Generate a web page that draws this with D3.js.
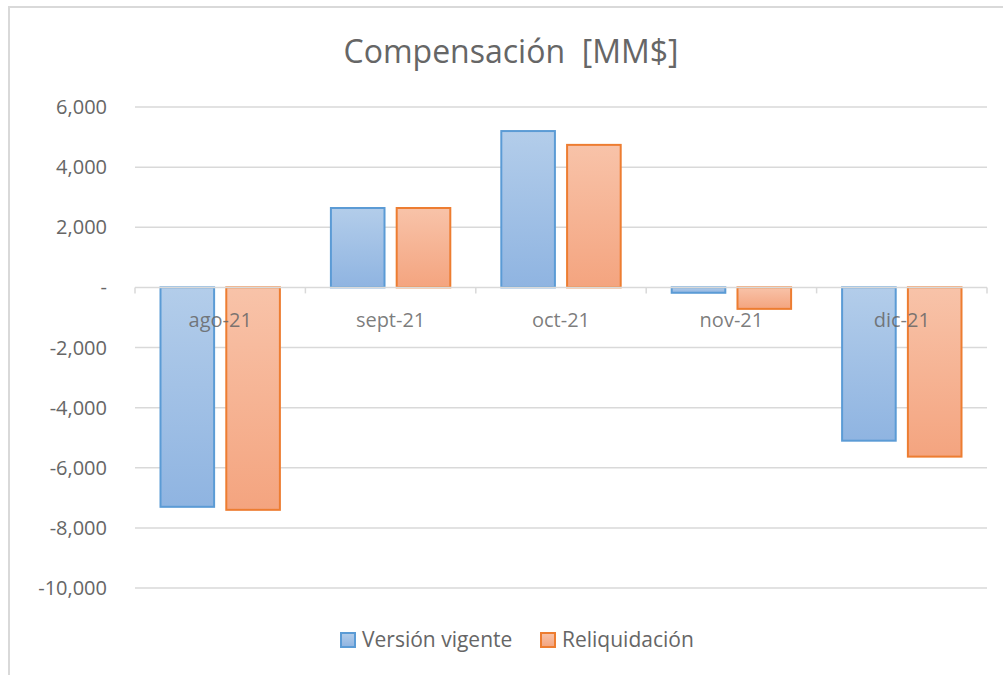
<!DOCTYPE html>
<html>
<head>
<meta charset="utf-8">
<script src="https://cdn.jsdelivr.net/npm/d3@7"></script>
<style>
  html, body { margin: 0; padding: 0; background: #fff; }
  svg { display: block; font-family: "Open Sans", sans-serif; }
</style>
</head>
<body>
<svg id="chart" width="1003" height="675"></svg>
<script>
// ── Data ──────────────────────────────────────────────────────────────────────
const months     = ['ago-21', 'sept-21', 'oct-21', 'nov-21', 'dic-21'];
const vigente    = [-7300, 2640, 5200, -180, -5100];
const reliquid   = [-7400, 2640, 4740, -715, -5630];
const seriesNames = ['Versión vigente', 'Reliquidación'];
const yTicks     = [6000, 4000, 2000, 0, -2000, -4000, -6000, -8000, -10000];

// ── Setup ─────────────────────────────────────────────────────────────────────
const svg = d3.select('#chart');
const plot = { left: 135, right: 987, top: 107, bottom: 588 };

const textCol = '#666666';
const gridCol = '#d9d9d9';

const series = [
  { name: seriesNames[0], values: vigente,  stroke: '#5b9bd5', top: '#b3cdea', bot: '#8fb4e1', id: 'g-blue' },
  { name: seriesNames[1], values: reliquid, stroke: '#ed7d31', top: '#f8c3a9', bot: '#f4a47f', id: 'g-orange' }
];

const defs = svg.append('defs');
series.forEach(s => {
  const lg = defs.append('linearGradient').attr('id', s.id)
    .attr('x1', 0).attr('y1', 0).attr('x2', 0).attr('y2', 1);
  lg.append('stop').attr('offset', '0%').attr('stop-color', s.top);
  lg.append('stop').attr('offset', '100%').attr('stop-color', s.bot);
});

// chart frame
svg.append('rect')
  .attr('x', 9).attr('y', 7).attr('width', 1100).attr('height', 800)
  .attr('fill', 'none').attr('stroke', gridCol).attr('stroke-width', 2);

// ── Scales ────────────────────────────────────────────────────────────────────
const y = d3.scaleLinear().domain([-10000, 6000]).range([plot.bottom, plot.top]);
const x0 = d3.scaleBand().domain(months).range([plot.left, plot.right]).paddingInner(0).paddingOuter(0);
const x1 = d3.scaleBand().domain([0, 1]).range([25.5, x0.bandwidth() - 25.5]).paddingInner(0.185);

// gridlines
svg.append('g').selectAll('line')
  .data(yTicks.filter(t => t !== 0))
  .join('line')
  .attr('x1', plot.left).attr('x2', plot.right)
  .attr('y1', d => y(d)).attr('y2', d => y(d))
  .attr('stroke', gridCol).attr('stroke-width', 1.5);

// y labels (accounting style: hyphen minus, "-" for zero)
const fmt = d => d === 0 ? '-' : d3.format(',')(d).replace('\u2212', '-');
svg.append('g').selectAll('text')
  .data(yTicks)
  .join('text')
  .attr('x', 107).attr('y', d => y(d))
  .attr('dy', '0.35em')
  .attr('text-anchor', 'end')
  .attr('fill', textCol)
  .style('font-size', '20px')
  .text(fmt);

// ── Bars ──────────────────────────────────────────────────────────────────────
series.forEach((s, si) => {
  svg.append('g').selectAll('rect')
    .data(s.values)
    .join('rect')
    .attr('x', (d, i) => x0(months[i]) + x1(si))
    .attr('width', x1.bandwidth())
    .attr('y', d => y(Math.max(0, d)))
    .attr('height', d => Math.abs(y(d) - y(0)))
    .attr('fill', `url(#${s.id})`)
    .attr('stroke', s.stroke)
    .attr('stroke-width', 2);
});

// zero axis line + ticks
svg.append('line')
  .attr('x1', plot.left).attr('x2', plot.right)
  .attr('y1', y(0)).attr('y2', y(0))
  .attr('stroke', gridCol).attr('stroke-width', 1.5);
svg.append('g').selectAll('line')
  .data(months.concat(['end']))
  .join('line')
  .attr('x1', (d, i) => plot.left + i * x0.bandwidth())
  .attr('x2', (d, i) => plot.left + i * x0.bandwidth())
  .attr('y1', y(0)).attr('y2', y(0) + 6)
  .attr('stroke', gridCol).attr('stroke-width', 1.5);

// category labels
svg.append('g').selectAll('text')
  .data(months)
  .join('text')
  .attr('x', d => x0(d) + x0.bandwidth() / 2)
  .attr('y', 320)
  .attr('dy', '0.35em')
  .attr('text-anchor', 'middle')
  .attr('fill', textCol)
  .attr('fill-opacity', 0.85)
  .style('font-size', '20px')
  .text(d => d);

// ── Title ─────────────────────────────────────────────────────────────────────
svg.append('text')
  .attr('x', 511).attr('y', 52)
  .attr('dy', '0.35em')
  .attr('text-anchor', 'middle')
  .attr('fill', textCol)
  .style('font-size', '32px')
  .style('white-space', 'pre')
  .attr('xml:space', 'preserve')
  .text('Compensación  [MM$]');

// ── Legend ────────────────────────────────────────────────────────────────────
const legendX = [341, 541];
const leg = svg.append('g').selectAll('g')
  .data(series)
  .join('g')
  .attr('transform', (d, i) => `translate(${legendX[i]},640)`);
leg.append('rect')
  .attr('x', 0).attr('y', -7).attr('width', 14).attr('height', 14)
  .attr('fill', d => `url(#${d.id})`)
  .attr('stroke', d => d.stroke).attr('stroke-width', 2);
leg.append('text')
  .attr('x', 21).attr('y', 0).attr('dy', '0.35em')
  .attr('fill', textCol)
  .style('font-size', '21px')
  .text(d => d.name);
</script>
</body>
</html>
